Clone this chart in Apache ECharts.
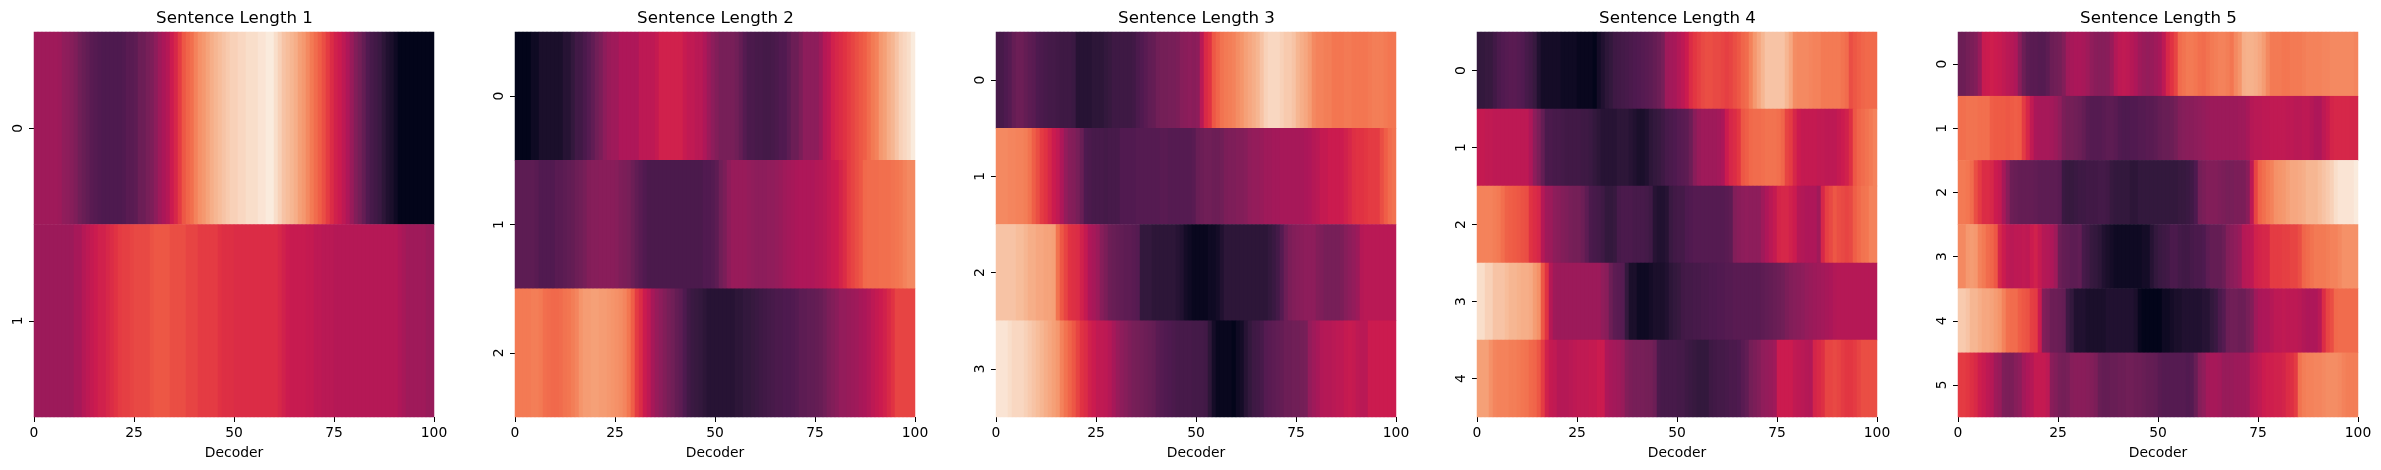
<!DOCTYPE html>
<html>
<head>
<meta charset="utf-8">
<style>
  html, body { margin: 0; padding: 0; background: #fff; }
  #main { width: 2381px; height: 470px; }
</style>
<script src="https://cdn.jsdelivr.net/npm/echarts@6/dist/echarts.min.js"></script>
</head>
<body>
<div id="main"></div>
<script>
// values, 0 = darkest, 100 = lightest, 100 steps per row
var titles = ["Sentence Length 1", "Sentence Length 2", "Sentence Length 3", "Sentence Length 4", "Sentence Length 5"];
var xTicks = [0, 25, 50, 75, 100];

var sentence1 = [
  [38,38,38,38,38,38,37,34,33,31,
   29,25,23,21,19,18,17,16,16,16,
   16,16,17,19,19,20,24,24,27,29,
   33,38,41,44,50,54,60,66,70,73,
   78,82,84,87,90,92,93,94,95,96,
   96,97,97,98,98,98,99,99,100,100,
   98,96,94,93,92,90,86,84,80,76,
   72,68,64,60,56,52,50,46,42,36,
   30,26,22,17,14,12,10,7,5,4,
   2,0,0,0,0,0,0,0,0,0],
  [37,37,37,37,37,37,37,37,37,37,
   40,40,44,46,48,50,52,52,54,56,
   58,60,61,61,62,63,63,63,63,65,
   66,66,66,66,64,64,64,64,62,62,
   62,60,60,60,60,60,58,57,57,57,
   56,56,56,56,56,56,56,56,56,56,
   56,54,52,50,49,49,49,49,48,48,
   46,46,45,45,45,44,44,44,44,44,
   44,44,44,44,44,44,44,44,44,44,
   44,42,40,38,38,38,38,38,36,36]
];
var sentence2 = [
  [0,0,0,0,2,2,4,4,4,4,
   4,4,6,6,8,12,12,15,18,21,
   25,28,33,36,38,38,42,42,42,42,
   42,46,46,46,46,48,52,52,52,52,
   52,52,49,47,47,45,45,42,37,33,
   30,27,27,27,27,25,22,18,15,15,
   14,14,13,13,14,15,17,17,20,24,
   24,28,33,33,33,33,37,44,46,52,
   54,56,58,60,62,64,66,68,72,76,
   78,84,86,90,92,94,96,97,98,100],
  [20,20,20,20,20,19,17,17,17,17,
   19,19,20,21,22,24,25,27,30,31,
   31,32,32,32,32,31,29,28,27,24,
   21,19,17,15,15,15,15,15,15,15,
   15,15,15,15,15,15,15,17,17,18,
   20,25,28,33,36,36,36,36,35,34,
   33,33,33,34,34,35,36,38,39,40,
   41,42,42,42,42,43,44,45,47,49,
   50,53,56,60,62,64,66,71,72,72,
   72,73,73,73,74,75,76,78,80,80],
  [76,76,76,76,77,77,76,73,72,71,
   71,72,74,75,77,79,83,85,85,86,
   86,85,85,84,83,82,81,79,75,68,
   60,56,50,46,40,36,33,30,27,25,
   22,20,16,12,10,9,8,7,6,6,
   6,6,6,6,6,7,7,8,8,9,
   10,11,12,13,14,15,15,16,16,17,
   18,20,20,21,21,22,23,25,28,30,
   32,35,35,36,37,38,40,41,43,46,
   48,50,52,55,58,62,62,62,62,62]
];
var sentence3 = [
  [14,14,16,18,22,24,24,22,20,19,
   16,15,14,13,13,12,11,11,11,10,
   6,6,6,6,7,7,7,8,9,11,
   11,11,11,11,12,15,17,19,21,22,
   25,26,26,27,27,28,31,32,33,32,
   33,45,55,58,66,70,74,76,77,78,
   81,83,86,88,90,92,94,96,97,97,
   97,96,95,95,94,92,90,88,85,80,
   78,78,77,77,75,75,75,76,76,75,
   75,75,75,76,77,77,77,76,75,75],
  [80,80,80,79,79,78,78,77,74,68,
   64,60,58,54,50,47,42,35,31,30,
   27,23,16,15,14,14,14,13,14,14,
   14,17,17,17,17,18,18,18,18,18,
   18,19,19,18,18,18,18,18,18,19,
   23,24,25,25,24,24,25,28,29,29,
   30,30,31,34,35,35,36,38,38,39,
   39,40,40,40,40,40,40,41,42,44,
   45,48,48,50,50,50,50,52,54,57,
   58,58,59,60,60,60,64,68,72,74],
  [94,94,94,94,94,93,93,92,90,90,
   88,88,87,87,86,74,66,62,58,57,
   56,52,48,42,40,37,31,28,24,23,
   22,21,20,20,19,18,8,8,8,7,
   7,7,7,7,7,6,5,3,2,1,
   1,1,1,2,2,3,5,7,7,7,
   7,7,7,7,7,7,7,7,8,10,
   13,18,24,28,30,31,32,33,33,33,
   30,29,27,27,27,27,28,31,33,35,
   37,44,45,45,45,45,45,45,45,45],
  [99,99,99,98,97,97,97,96,95,94,
   93,92,90,88,86,84,78,74,70,66,
   62,58,56,52,50,47,47,46,44,40,
   36,33,31,29,27,26,25,24,23,22,
   19,18,17,16,15,14,14,14,14,13,
   13,13,12,7,3,1,1,1,1,0,
   2,3,6,8,11,12,14,18,19,20,
   21,22,24,24,25,25,26,27,35,38,
   40,43,44,44,45,46,46,48,49,48,
   46,45,45,50,50,50,50,50,50,50]
];
var sentence4 = [
  [8,8,9,9,12,15,17,18,19,19,
   18,17,14,12,9,5,3,3,3,3,
   3,2,2,2,2,1,1,1,1,0,
   3,5,7,8,11,12,13,14,15,16,
   17,18,19,20,22,24,27,38,39,40,
   43,46,50,56,59,61,63,64,64,63,
   63,62,61,62,64,66,70,72,78,84,
   88,92,94,94,94,94,94,92,88,81,
   80,80,80,79,78,78,76,76,76,76,
   76,74,72,64,66,68,70,71,71,71],
  [48,48,47,47,46,46,46,46,46,46,
   46,46,46,42,33,28,22,15,15,14,
   14,13,12,12,12,12,11,11,10,8,
   7,6,6,6,6,7,7,7,6,5,
   4,4,5,7,8,9,11,14,15,16,
   18,19,20,24,32,36,38,38,38,38,
   39,41,50,54,56,59,66,68,71,72,
   72,73,74,74,74,73,70,62,60,54,
   50,48,48,48,48,47,47,46,46,46,
   48,50,52,57,66,70,72,74,76,78],
  [78,78,78,78,77,76,73,69,68,67,
   66,65,64,58,56,54,44,38,37,33,
   32,30,29,27,26,26,24,20,15,14,
   13,11,8,8,9,14,15,15,15,14,
   14,14,13,11,6,5,5,6,10,12,
   13,13,16,17,18,18,18,18,18,18,
   18,18,19,20,30,32,33,34,33,33,
   33,38,42,45,48,53,54,54,52,50,
   44,43,42,42,42,38,54,61,63,66,
   64,63,62,63,68,71,74,75,78,78],
  [98,98,96,96,94,94,94,93,92,92,
   91,90,90,89,85,82,66,58,44,38,
   37,37,37,37,37,37,37,37,37,37,
   37,34,32,24,20,19,18,8,4,4,
   2,2,2,3,4,4,4,5,7,8,
   9,12,13,13,14,14,15,15,16,16,
   17,17,18,18,19,19,19,19,19,19,
   19,20,21,22,23,24,25,28,30,31,
   32,33,35,36,37,38,39,40,41,43,
   44,44,44,44,44,44,44,44,44,44],
  [86,86,86,82,79,78,78,78,77,77,
   76,75,74,71,70,66,60,52,48,47,
   44,44,44,45,46,47,47,47,48,48,
   50,50,42,40,39,38,36,30,28,27,
   27,27,26,26,24,15,14,14,14,14,
   13,13,11,10,9,8,8,8,11,12,
   13,13,14,15,15,16,19,21,26,28,
   30,34,35,36,38,50,50,50,50,47,
   46,45,44,43,53,55,57,62,62,63,
   62,60,59,59,60,62,64,64,64,64]
];
var sentence5 = [
  [24,24,26,28,30,36,49,50,51,50,
   49,47,45,44,42,32,24,20,19,19,
   18,18,20,24,25,26,30,38,40,41,
   41,40,38,34,32,31,31,32,36,43,
   46,47,46,44,42,38,36,35,36,38,
   40,46,54,58,62,72,74,76,76,75,
   73,72,74,76,77,78,78,77,75,80,
   83,90,91,91,90,88,85,80,76,76,
   76,75,75,76,76,76,77,78,78,78,
   78,79,79,80,80,80,80,80,80,79],
  [73,73,74,74,74,73,73,73,68,67,
   67,67,66,67,68,67,60,54,47,41,
   40,40,40,39,37,34,28,26,26,25,
   24,22,19,18,18,18,19,20,20,19,
   17,16,16,17,17,18,18,19,19,20,
   22,23,23,24,26,30,31,32,32,33,
   34,35,36,37,37,37,37,37,37,37,
   38,38,40,44,45,45,46,46,47,47,
   47,47,46,46,45,45,46,46,44,42,
   42,46,49,53,54,54,54,54,53,53],
  [76,76,75,72,64,60,56,56,54,50,
   48,40,32,24,23,22,22,22,22,21,
   20,20,20,20,20,19,10,9,9,10,
   11,11,12,12,12,13,13,12,9,8,
   8,8,8,7,7,8,8,8,8,8,
   8,8,8,8,8,9,9,10,12,16,
   26,28,30,30,30,29,28,27,27,28,
   28,28,32,46,62,70,73,76,78,82,
   83,84,86,88,88,89,90,92,92,92,
   93,94,95,96,98,99,99,99,99,100],
  [80,80,84,85,84,78,76,72,70,66,
   54,50,46,45,46,46,47,46,50,52,
   48,44,43,42,38,24,22,21,20,20,
   21,14,12,9,8,7,5,4,3,2,
   2,2,2,2,2,2,3,3,6,8,
   10,11,12,15,15,13,12,12,14,15,
   15,16,20,22,22,22,24,30,32,34,
   36,44,45,46,52,53,54,54,60,60,
   60,61,61,62,62,64,70,72,74,76,
   76,76,77,78,78,80,82,82,82,82],
  [95,95,94,92,92,90,88,88,87,85,
   83,78,73,72,72,68,66,65,61,60,
   50,30,28,24,24,23,22,11,8,5,
   5,5,4,4,4,4,4,5,5,5,
   5,5,5,5,4,1,0,0,0,0,
   0,2,2,3,4,4,5,5,5,5,
   5,6,6,8,10,15,18,24,25,25,
   24,24,27,30,38,41,42,42,44,46,
   46,47,46,46,46,45,43,42,42,42,
   45,56,62,64,71,72,72,72,72,72],
  [60,60,59,57,55,51,49,46,44,38,
   36,29,28,28,31,33,39,42,44,48,
   48,48,46,32,30,27,26,27,31,32,
   32,32,31,30,28,23,22,22,23,23,
   24,24,25,25,24,24,23,22,22,21,
   19,18,18,18,18,18,18,17,18,23,
   31,34,39,40,40,39,36,36,36,37,
   37,37,38,44,45,47,50,51,51,52,
   52,53,56,57,60,74,77,78,78,79,
   79,80,81,81,81,80,78,77,77,77]
];
var allSentences = [sentence1, sentence2, sentence3, sentence4, sentence5];
var gridLeft = [34, 515, 996, 1477, 1958];

// rocket colormap
var rocket = ["#03051a", "#35193e", "#501a50", "#701f57", "#8e1d5b", "#ad1759", "#cb1b4f",
  "#e13342", "#ee5a45", "#f37651", "#f5966c", "#f6b48f", "#faebdd"];

var xCats = [];
for (var c = 0; c < 100; c++) xCats.push(c);

var grid = [], xAxis = [], yAxis = [], series = [], title = [];
for (var i = 0; i < allSentences.length; i++) {
  var rows = allSentences[i];
  var rowCats = [], cells = [];
  for (var r = 0; r < rows.length; r++) {
    rowCats.push(String(r));
    for (var k = 0; k < rows[r].length; k++) {
      cells.push([k, r, rows[r][k]]);
    }
  }
  // 400 wide so every band is a whole 4px and the cells leave no seams
  grid.push({ left: gridLeft[i], top: 32, width: 400, height: 385 });
  title.push({
    text: titles[i],
    left: gridLeft[i] + 200.5,
    top: 10,
    padding: 0,
    textAlign: "center",
    textStyle: { fontFamily: "DejaVu Sans", fontSize: 16.67, fontWeight: "normal", color: "#000" }
  });
  // hidden band axis for the cells
  xAxis.push({ type: "category", gridIndex: i, data: xCats, show: false });
  // the visible 0-100 axis sits on top of it
  xAxis.push({
    type: "value",
    gridIndex: i,
    position: "bottom",
    min: 0,
    max: 100,
    interval: xTicks[1] - xTicks[0],
    name: "Decoder",
    nameLocation: "middle",
    nameGap: 29,
    nameTextStyle: { fontFamily: "DejaVu Sans", fontSize: 13.89, color: "#000" },
    axisLine: { show: false },
    axisTick: { show: true, length: 5, lineStyle: { color: "#000", width: 1 } },
    axisLabel: { fontFamily: "DejaVu Sans", fontSize: 13.89, color: "#000", margin: 9 },
    splitLine: { show: false }
  });
  yAxis.push({
    type: "category",
    gridIndex: i,
    data: rowCats,
    inverse: true,
    axisLine: { show: false },
    axisTick: { show: true, alignWithLabel: true, length: 5, lineStyle: { color: "#000", width: 1 } },
    axisLabel: { fontFamily: "DejaVu Sans", fontSize: 13.89, color: "#000", rotate: 90, margin: 9 },
    splitLine: { show: false }
  });
  series.push({
    type: "heatmap",
    xAxisIndex: i * 2,
    yAxisIndex: i,
    data: cells,
    progressive: 0,
    animation: false
  });
}

var myChart = echarts.init(document.getElementById("main"), null, { renderer: "canvas" });
myChart.setOption({
  animation: false,
  backgroundColor: "#fff",
  title: title,
  grid: grid,
  xAxis: xAxis,
  yAxis: yAxis,
  visualMap: { show: false, min: 0, max: 100, inRange: { color: rocket } },
  series: series
});
</script>
</body>
</html>
